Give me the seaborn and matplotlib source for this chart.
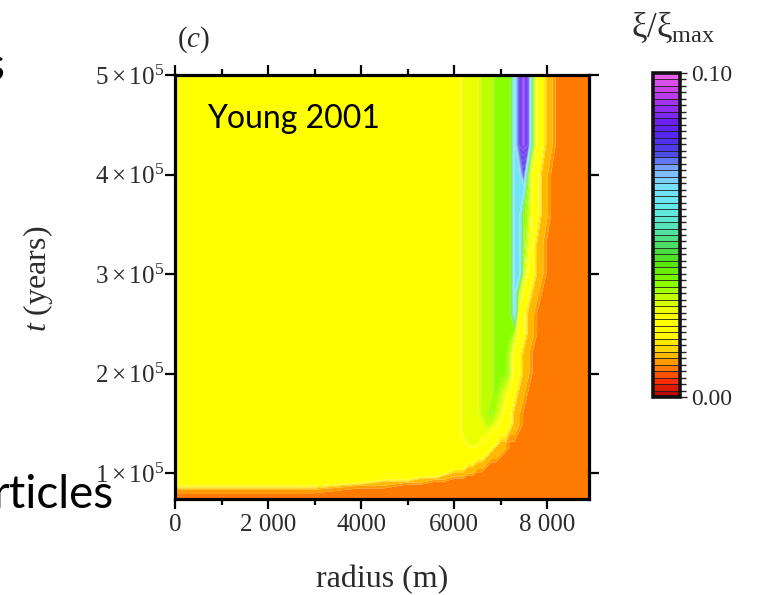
import numpy as np
import matplotlib
matplotlib.use("Agg")
import matplotlib.pyplot as plt
import seaborn as sns

# ---------------- data ----------------
radius_m = [0, 1500, 3000, 4000, 4500, 5000, 5300, 5600, 5800, 6000, 6100, 6200,
            6300, 6400, 6500, 6600, 6700, 6800, 6900, 7000, 7100, 7200, 7300, 7400,
            7500, 7600, 7700, 7800, 7900, 8000, 8100, 8200, 8300, 8600, 8900]
time_1e5_yr = [0.74, 0.79, 0.84, 0.88, 0.91, 0.94, 0.97, 1.0, 1.05, 1.1, 1.15, 1.2,
               1.25, 1.3, 1.4, 1.5, 1.6, 1.8, 2.0, 2.2, 2.4, 2.6, 2.8, 3.0, 3.3,
               3.6, 4.0, 4.3, 4.6, 5.0]
# colour zone seen at each (time, radius) node, one string per time row
zone_rows = [
    "OOOOOOOOOOOOOOOOOOOOOOOOOOOOOOOOOOO",
    "OOOOOOOOOOOOOOOOOOOOOOOOOOOOOOOOOOO",
    "LLLOOOOOOOOOOOOOOOOOOOOOOOOOOOOOOOO",
    "YYYLLOOOOOOOOOOOOOOOOOOOOOOOOOOOOOO",
    "YYYYLLLOOOOOOOOOOOOOOOOOOOOOOOOOOOO",
    "YYYYYYLLLOOOOOOOOOOOOOOOOOOOOOOOOOO",
    "YYYYYYYYLLLLOOOOOOOOOOOOOOOOOOOOOOO",
    "YYYYYYYYYLLLLLOOOOOOOOOOOOOOOOOOOOO",
    "YYYYYYYYYYYYLLLLOOOOOOOOOOOOOOOOOOO",
    "YYYYYYYYYYYYYYLLLOOOOOOOOOOOOOOOOOO",
    "YYYYYYYYYYYYYYYYLLLOOOOOOOOOOOOOOOO",
    "YYYYYYYYYYYYYYYYYLLLOOOOOOOOOOOOOOO",
    "YYYYYYYYYYYYYYYYYYLLLOOOOOOOOOOOOOO",
    "YYYYYYYYYYYYyyyYYYYLLOOOOOOOOOOOOOO",
    "YYYYYYYYYYYyyyyyyYYYYLLOOOOOOOOOOOO",
    "YYYYYYYYYYYyyyyyggyYYYLLOOOOOOOOOOO",
    "YYYYYYYYYYYyyyyggGgyYYLLOOOOOOOOOOO",
    "YYYYYYYYYYYyyyygggGgyYYLLOOOOOOOOOO",
    "YYYYYYYYYYYyyyygggGGGgYYLLOOOOOOOOO",
    "YYYYYYYYYYYyyyygggGGGgYYLLOOOOOOOOO",
    "YYYYYYYYYYYyyyygggGGGGgYYLLOOOOOOOO",
    "YYYYYYYYYYYyyyygggGGGGCYYLLOOOOOOOO",
    "YYYYYYYYYYYyyyygggGGGGCgYYLLOOOOOOO",
    "YYYYYYYYYYYyyyygggGGGGCCgYYLLOOOOOO",
    "YYYYYYYYYYYyyyygggGGGGCCGyYLLOOOOOO",
    "YYYYYYYYYYYyyyygggGGGGCCGgYYLLOOOOO",
    "YYYYYYYYYYYyyyygggGGGGCCBGYYLLOOOOO",
    "YYYYYYYYYYYyyyygggGGGGCBPBGYYLLOOOO",
    "YYYYYYYYYYYyyyygggGGGGCBPBGYYLLOOOO",
    "YYYYYYYYYYYyyyygggGGGGCBPBGYYLLOOOO",
]
# xi/xi_max value of each colour zone
zone_xi = {"O": 0.0095, "L": 0.0125, "Y": 0.021, "y": 0.027, "g": 0.031,
           "G": 0.035, "C": 0.063, "b": 0.070, "B": 0.078, "P": 0.089}

x_ticks = [0, 2000, 4000, 6000, 8000]
x_tick_labels = ["0", "2 000", "4000", "6000", "8 000"]
x_minor_ticks = [1000, 3000, 5000, 7000]
y_ticks = [1e5, 2e5, 3e5, 4e5, 5e5]
y_tick_labels = [r"$1\times10^{5}$", r"$2\times10^{5}$", r"$3\times10^{5}$",
                 r"$4\times10^{5}$", r"$5\times10^{5}$"]
cbar_ticks = [0.0, 0.1]
cbar_tick_labels = ["0.00", "0.10"]
levels = np.linspace(0.0, 0.1, 51)

# colour scale of the colour bar, bottom (0.00) to top (0.10)
cbar_anchor_colors = ["#b00000", "#ff3000", "#ff8c00", "#ffd800", "#ffff00",
                      "#ffff00", "#ccff00", "#88ff00", "#5ce800", "#48dc40",
                      "#50e098", "#5ee6d2", "#66e8ee", "#78e0ff", "#80b4ff",
                      "#4c4ce8", "#5028f0", "#6a20f0", "#9a30f0", "#c840e8",
                      "#f060f0"]

# ---------------- style ----------------
sns.set_theme(style="ticks")
plt.rcParams["font.family"] = ["Liberation Serif", "DejaVu Serif"]
plt.rcParams["mathtext.fontset"] = "custom"
plt.rcParams["mathtext.rm"] = "Liberation Serif"
plt.rcParams["mathtext.it"] = "Liberation Serif:italic"
plt.rcParams["mathtext.bf"] = "Liberation Serif:bold"

cmap = sns.blend_palette(cbar_anchor_colors, n_colors=256, as_cmap=True)

n_r = len(radius_m)
Z = np.array([[zone_xi[c] for c in row.ljust(n_r, "O")[:n_r]] for row in zone_rows])
R, T = np.meshgrid(np.array(radius_m, float), np.array(time_1e5_yr) * 1e5)

W, H = 764, 595
fig = plt.figure(figsize=(W / 100, H / 100), dpi=100)
fig.patch.set_facecolor("white")
ax = fig.add_axes([175 / W, 1 - 499 / H, 414 / W, 424 / H])

cs = ax.contourf(R, T, Z, levels=levels, cmap=cmap, antialiased=True)

ax.set_xlim(0, 8900)
ax.set_ylim(0.74e5, 5e5)
ax.set_xticks(x_ticks)
ax.set_xticklabels(x_tick_labels)
ax.set_xticks(x_minor_ticks, minor=True)
ax.set_yticks(y_ticks)
ax.set_yticklabels(y_tick_labels)
ax.tick_params(which="both", direction="out", top=True, right=True,
               color="black", width=1.6)
ax.tick_params(which="major", length=7)
ax.tick_params(which="minor", length=4)
ax.tick_params(axis="x", labelsize=18, labelcolor="#2b2b2b", pad=4)
ax.tick_params(axis="y", labelsize=18, labelcolor="#2b2b2b", pad=1)
for sp in ax.spines.values():
    sp.set_linewidth(2.3)
    sp.set_color("black")

ax.set_xlabel("radius (m)", fontsize=23, color="#2b2b2b")
ax.xaxis.set_label_coords(0.5, -0.155)
ax.set_ylabel(r"$t$ (years)", fontsize=23, color="#2b2b2b", va="center")
ax.yaxis.set_label_coords(-0.33, 0.52)

ax.text(0.045, 1.083, r"($c$)", transform=ax.transAxes, ha="center",
        va="center", fontsize=21, color="#2b2b2b")

ax.text(32 / 414, 1 - (128 - 75) / 424, "Young 2001",
        transform=ax.transAxes, ha="left", va="baseline", fontsize=23,
        family="Lato", color="black")

# colour bar
cax = fig.add_axes([653 / W, 1 - 397 / H, 27 / W, 324 / H])
cb = fig.colorbar(cs, cax=cax, ticks=cbar_ticks, drawedges=True)
cb.set_ticklabels(cbar_tick_labels)
cb.set_ticks(levels, minor=True)
cb.outline.set_linewidth(2.6)
cb.outline.set_edgecolor("#111111")
cb.dividers.set_color("#1e1e1e")
cb.dividers.set_linewidth(0.6)
cax.tick_params(which="both", direction="out", right=True, left=False,
                color="#222222", width=1.0)
cax.tick_params(which="major", length=5, labelsize=17, labelcolor="#2b2b2b", pad=3)
cax.tick_params(which="minor", length=4)

fig.text(673 / W, 1 - 28 / H, r"ξ/ξ$_{\rm max}$", ha="center", va="center",
         fontsize=25, color="#2b2b2b")

# fragments of surrounding slide text
fig.text(114 / W, 1 - 508 / H, "rticles", ha="right", va="baseline",
         fontsize=33, family="Lato", color="black")
fig.text(4 / W, 1 - 80 / H, "s", ha="right", va="baseline",
         fontsize=33, family="Lato", color="black")

fig.savefig("out.png", dpi=100, facecolor="white")
